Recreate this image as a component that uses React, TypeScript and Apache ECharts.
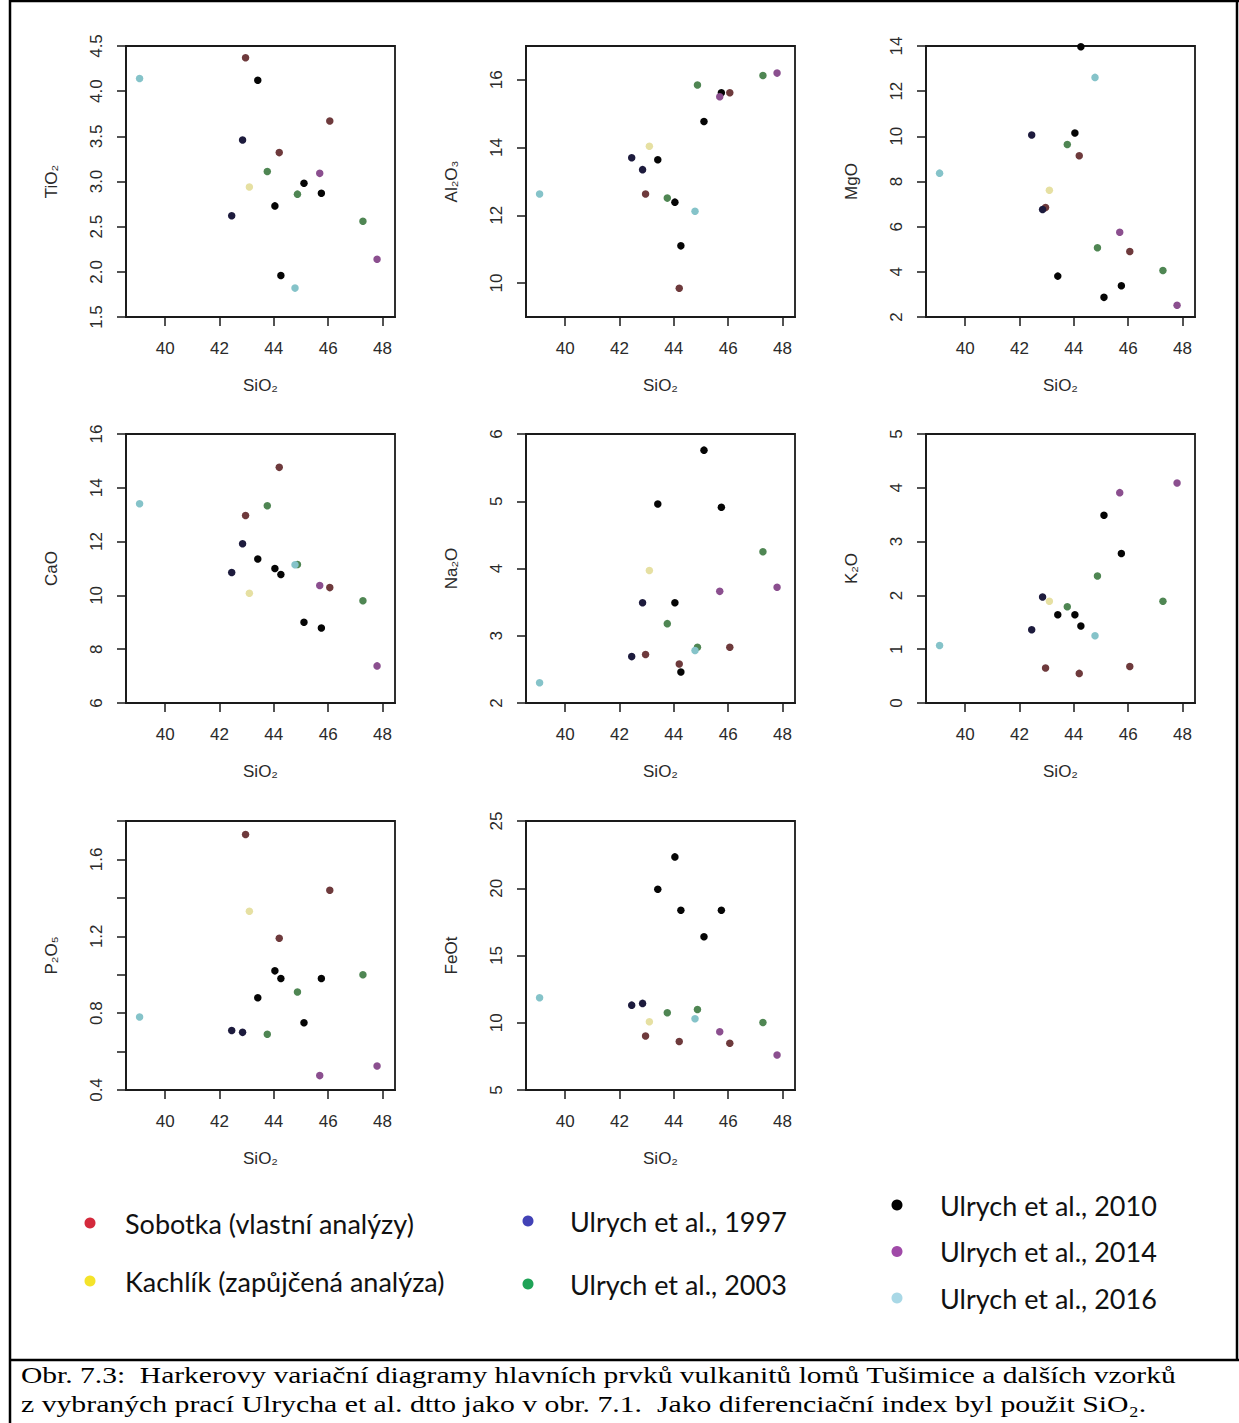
import React, { useEffect, useRef } from "react";
import * as echarts from "echarts";

// ---------- DATA ----------
const groupNames = [
  "Sobotka (vlastní analýzy)",
  "Kachlík (zapůjčená analýza)",
  "Ulrych et al., 1997",
  "Ulrych et al., 2003",
  "Ulrych et al., 2010",
  "Ulrych et al., 2014",
  "Ulrych et al., 2016",
];
const pointColors = ["#6e3a3c", "#e6e0a2", "#1d1b3d", "#4f8653", "#050505", "#8b4f8f", "#85c3c9"];
const legendColors = ["#d42a3c", "#f4e32a", "#4242b6", "#1fa357", "#000000", "#a04aa8", "#a9d8e6"];

// group index of each sample
const sampleGroup = [0, 0, 0, 1, 2, 2, 3, 3, 3, 4, 4, 4, 4, 4, 5, 5, 6, 6];
const SiO2 = [42.96, 44.2, 46.06, 43.1, 42.45, 42.85, 43.76, 44.87, 47.28, 43.41, 44.04, 44.26, 45.11, 45.75, 45.69, 47.8, 39.06, 44.78];
const TiO2 = [4.37, 3.32, 3.67, 2.94, 2.62, 3.46, 3.11, 2.86, 2.56, 4.12, 2.73, 1.96, 2.98, 2.87, 3.09, 2.14, 4.14, 1.82];
const Al2O3 = [12.63, 9.85, 15.62, 14.04, 13.7, 13.35, 12.51, 15.85, 16.13, 13.64, 12.39, 11.1, 14.77, 15.62, 15.5, 16.2, 12.63, 12.12];
const MgO = [6.85, 9.14, 4.9, 7.61, 10.06, 6.76, 9.64, 5.07, 4.06, 3.81, 10.15, 13.97, 2.87, 3.38, 5.75, 2.52, 8.37, 12.61];
const CaO = [12.97, 14.76, 10.29, 10.08, 10.85, 11.92, 13.33, 11.15, 9.8, 11.35, 11.0, 10.78, 9.0, 8.79, 10.37, 7.38, 13.41, 11.14];
const Na2O = [2.72, 2.58, 2.83, 3.97, 2.69, 3.49, 3.18, 2.83, 4.25, 4.96, 3.49, 2.46, 5.76, 4.91, 3.66, 3.72, 2.3, 2.78];
const K2O = [0.65, 0.55, 0.68, 1.89, 1.36, 1.97, 1.79, 2.36, 1.89, 1.64, 1.64, 1.43, 3.49, 2.78, 3.91, 4.09, 1.07, 1.25];
const P2O5 = [1.73, 1.19, 1.44, 1.33, 0.71, 0.7, 0.69, 0.91, 1.0, 0.88, 1.02, 0.98, 0.75, 0.98, 0.475, 0.525, 0.78, null];
const FeOt = [9.01, 8.61, 8.47, 10.07, 11.31, 11.44, 10.74, 10.99, 10.02, 19.93, 22.33, 18.37, 16.39, 18.37, 9.33, 7.6, 11.86, 10.3];

const panelNames = ["TiO₂", "Al₂O₃", "MgO", "CaO", "Na₂O", "K₂O", "P₂O₅", "FeOt"];
const panelValues: (number | null)[][] = [TiO2, Al2O3, MgO, CaO, Na2O, K2O, P2O5, FeOt];
const yMins = [1.5, 9, 2, 6, 2, 0, 0.4, 5];
const yMaxs = [4.5, 17, 14, 16, 6, 5, 1.8, 25];
const yTicks = [
  [1.5, 2, 2.5, 3, 3.5, 4, 4.5],
  [10, 12, 14, 16],
  [2, 4, 6, 8, 10, 12, 14],
  [6, 8, 10, 12, 14, 16],
  [2, 3, 4, 5, 6],
  [0, 1, 2, 3, 4, 5],
  [0.4, 0.6, 0.8, 1.0, 1.2, 1.4, 1.6, 1.8],
  [5, 10, 15, 20, 25],
];
const yLabels = [
  [1.5, 2, 2.5, 3, 3.5, 4, 4.5],
  [10, 12, 14, 16],
  [2, 4, 6, 8, 10, 12, 14],
  [6, 8, 10, 12, 14, 16],
  [2, 3, 4, 5, 6],
  [0, 1, 2, 3, 4, 5],
  [0.4, 0.8, 1.2, 1.6],
  [5, 10, 15, 20, 25],
];
const yDecimals = [1, 0, 0, 0, 0, 0, 1, 0];
const xName = "SiO₂";
const xTicks = [40, 42, 44, 46, 48];
const xMin = 38.56;
const xMax = 48.46;

const captionLines = [
  "Obr. 7.3:  Harkerovy variační diagramy hlavních prvků vulkanitů lomů Tušimice a dalších vzorků",
  "z vybraných prací Ulrycha et al. dtto jako v obr. 7.1.  Jako diferenciační index byl použit SiO₂.",
];

// ---------- LAYOUT ----------
const colLeft = [126, 526, 926];
const rowTop = [46, 434, 821];
const rowH = [271, 269, 269];
const boxW = 269;

const axisFont = "'Liberation Sans', Arial, sans-serif";
const textColor = "#2a2a2a";

function buildOption() {
  const grid: any[] = [];
  const xAxis: any[] = [];
  const yAxis: any[] = [];
  const series: any[] = [];

  panelNames.forEach((pname, g) => {
    const col = g % 3;
    const row = Math.floor(g / 3);
    grid.push({
      left: colLeft[col],
      top: rowTop[row],
      width: boxW,
      height: rowH[row],
      show: true,
      borderColor: "#1a1a1a",
      borderWidth: 1.8,
      backgroundColor: "transparent",
      containLabel: false,
    });
    const tickStyle = { color: "#1a1a1a", width: 1.5 };
    xAxis.push({
      gridIndex: g,
      type: "value",
      min: xMin,
      max: xMax,
      name: xName,
      nameLocation: "middle",
      nameGap: 60,
      nameTextStyle: { fontFamily: axisFont, fontSize: 17, color: textColor },
      axisLine: { show: true, onZero: false, lineStyle: { color: "#1a1a1a", width: 1.8 } },
      axisTick: { show: true, inside: false, length: 9, customValues: xTicks, lineStyle: tickStyle },
      axisLabel: {
        show: true,
        customValues: xTicks,
        margin: 23,
        fontFamily: axisFont,
        fontSize: 17,
        color: textColor,
      },
      splitLine: { show: false },
    });
    const dec = yDecimals[g];
    yAxis.push({
      gridIndex: g,
      type: "value",
      min: yMins[g],
      max: yMaxs[g],
      name: pname,
      nameLocation: "middle",
      nameGap: 66,
      nameTextStyle: { fontFamily: axisFont, fontSize: 17, color: textColor },
      axisLine: { show: true, onZero: false, lineStyle: { color: "#1a1a1a", width: 1.8 } },
      axisTick: { show: true, inside: false, length: 9, customValues: yTicks[g], lineStyle: tickStyle },
      axisLabel: {
        show: true,
        customValues: yLabels[g],
        rotate: 90,
        margin: 21,
        fontFamily: axisFont,
        fontSize: 17,
        color: textColor,
        formatter: (v: number) => v.toFixed(dec),
      },
      splitLine: { show: false },
    });

    const vals = panelValues[g];
    groupNames.forEach((gname, s) => {
      const data: number[][] = [];
      sampleGroup.forEach((grp, i) => {
        if (grp === s && vals[i] !== null && vals[i] !== undefined) {
          data.push([SiO2[i], vals[i] as number]);
        }
      });
      series.push({
        type: "scatter",
        name: gname,
        xAxisIndex: g,
        yAxisIndex: g,
        symbol: "circle",
        symbolSize: 7.5,
        clip: false,
        silent: true,
        itemStyle: { color: pointColors[s], opacity: 1 },
        data,
      });
    });
  });

  const legendText = { fontFamily: "Lato, 'Open Sans', sans-serif", fontSize: 27, color: "#111", lineHeight: 32 };
  const mkLegend = (idx: number[], left: number, top: number, itemWidth: number, itemGap: number) => ({
    show: true,
    orient: "vertical",
    left,
    top,
    itemWidth,
    itemHeight: 11,
    itemGap,
    icon: "circle",
    selectedMode: false,
    padding: 0,
    textStyle: legendText,
    data: idx.map((i) => ({ name: groupNames[i], itemStyle: { color: legendColors[i] } })),
  });

  const legend = [
    mkLegend([0, 1], 84.5, 1207, 60, 26),
    mkLegend([2, 3], 522.5, 1205, 74, 31),
    mkLegend([4, 5, 6], 891.5, 1189, 76, 14.5),
  ];

  const lineStyle = { stroke: "#000", lineWidth: 2.5 };
  const captionFont = "24px 'Liberation Serif', 'Times New Roman', serif";
  const graphic: any[] = [
    { type: "line", shape: { x1: 10, y1: 1, x2: 1239, y2: 1 }, style: lineStyle, silent: true },
    { type: "line", shape: { x1: 10, y1: 0, x2: 10, y2: 1423 }, style: lineStyle, silent: true },
    { type: "line", shape: { x1: 1237, y1: 0, x2: 1237, y2: 1360 }, style: lineStyle, silent: true },
    { type: "line", shape: { x1: 10, y1: 1360, x2: 1239, y2: 1360 }, style: lineStyle, silent: true },
    {
      type: "text",
      x: 21,
      y: 1375,
      scaleX: 1.23,
      silent: true,
      style: { text: captionLines[0], font: captionFont, fill: "#000", verticalAlign: "middle" },
    },
    {
      type: "text",
      x: 21,
      y: 1404,
      scaleX: 1.24,
      silent: true,
      style: { text: captionLines[1], font: captionFont, fill: "#000", verticalAlign: "middle" },
    },
  ];

  return {
    animation: false,
    backgroundColor: "#ffffff",
    grid,
    xAxis,
    yAxis,
    series,
    legend,
    graphic,
  };
}

export default function App() {
  const ref = useRef<HTMLDivElement>(null);
  useEffect(() => {
    if (!ref.current) return;
    const chart = echarts.init(ref.current, null, { renderer: "svg" });
    chart.setOption(buildOption() as any);
    return () => {
      chart.dispose();
    };
  }, []);
  return (
    <div
      ref={ref}
      style={{ position: "fixed", left: 0, top: 0, width: 1239, height: 1423, background: "#fff" }}
    />
  );
}
